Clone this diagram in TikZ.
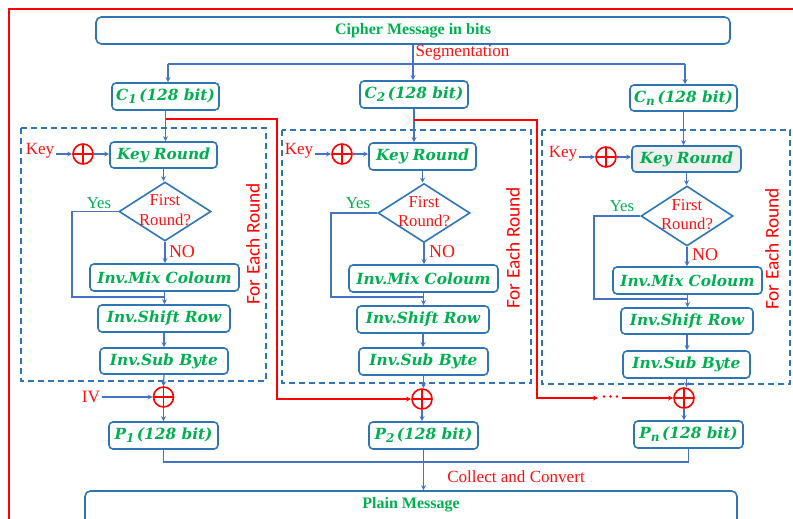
\documentclass[tikz,border=0pt]{standalone}
\usepackage{fontspec}
\setmainfont{Liberation Serif}
\newfontfamily\stagefont{DejaVu Serif}
\newfontfamily\loopfont{Carlito}
\usetikzlibrary{arrows.meta,shapes.geometric}
\newdimen\pxu \pxu=0.75pt
\definecolor{boxblue}{HTML}{2E75B6}
\definecolor{linkblue}{HTML}{4472C4}
\definecolor{txtgreen}{HTML}{00B050}
\definecolor{txtred}{HTML}{FF1010}

\tikzset{
  stage/.style={draw=boxblue, line width=1.2pt, rounded corners=3pt, inner sep=0pt,
    text=txtgreen, font=\stagefont\bfseries\itshape\fontsize{11.5}{13}\selectfont},
  message/.style={draw=boxblue, line width=1.2pt, rounded corners=4pt, inner sep=0pt,
    text=txtgreen, font=\bfseries\fontsize{12}{14}\selectfont},
  decision/.style={diamond, draw=boxblue, line width=1.2pt, inner sep=0pt},
  flow/.style={draw=linkblue, line width=0.9pt, -{Stealth[length=3.8pt,width=3.8pt]}},
  plainline/.style={draw=linkblue, line width=0.9pt},
  redflow/.style={draw=red, line width=1.2pt, -{Stealth[length=3.8pt,width=3.8pt]}},
  xorop/.style={circle, draw=red, line width=1.2pt, minimum size=15pt, inner sep=0pt,
    path picture={\draw[red, line width=1.2pt]
      (path picture bounding box.north) -- (path picture bounding box.south)
      (path picture bounding box.west) -- (path picture bounding box.east);}},
  roundframe/.style={draw=boxblue, line width=1.1pt, dash pattern=on 4.5pt off 3pt},
  redtext/.style={text=txtred, inner sep=1pt, font=\fontsize{12.8}{14}\selectfont},
  greentext/.style={text=txtgreen, inner sep=1pt, font=\fontsize{12.5}{14}\selectfont},
  asktext/.style={text=txtred, inner sep=0pt, align=center, font=\fontsize{12.5}{14.5}\selectfont},
  looptext/.style={text=red, rotate=90, inner sep=0pt, font=\loopfont\fontsize{14.5}{16}\selectfont},
  dotmark/.style={circle, fill=red, inner sep=0pt, minimum size=2.2pt},
}

\newcommand\blockname[2]{{\itshape #1}\raisebox{-0.35ex}{\fontsize{9}{10}\selectfont #2}\,(128 {\itshape bit})}

\begin{document}
\begin{tikzpicture}[x=0.75pt, y=-0.75pt]
\useasboundingbox (0,0) rectangle (793,518);
\clip (0,0) rectangle (793,518);

% outer frame (runs off the page to the right and bottom)
\draw[red, line width=1.7pt] (9,540) -- (9,9) -- (820,9);

% top and bottom messages
\node[message, minimum width=634\pxu, minimum height=27\pxu] (cipher) at (413,30.5) {Cipher Message in bits};
\node[message, minimum width=652\pxu, minimum height=34\pxu] (plain) at (411,508) {};
\node[text=txtgreen, inner sep=0pt, font=\bfseries\fontsize{12}{14}\selectfont] (plaintxt) at (411,505) {Plain Message};

% ciphertext blocks
\node[stage, minimum width=107\pxu, minimum height=27\pxu] (c1) at (165.5,96.5) {\blockname{C}{1}};
\node[stage, minimum width=108\pxu, minimum height=27\pxu] (c2) at (414,94.5) {\blockname{C}{2}};
\node[stage, minimum width=107\pxu, minimum height=26\pxu] (cn) at (683.5,98) {\blockname{C}{n}};

% segmentation
\coordinate (segL) at (168,64);
\coordinate (segR) at (685,64);
\draw[plainline] (segL) -- (segR);
\draw[flow] (cipher.south) -- (cipher.south |- c2.north);
\draw[flow] (segL) -- (segL |- c1.north);
\draw[flow] (segR) -- (segR |- cn.north);
\node[redtext, anchor=west] (segtxt) at (414,53) {Segmentation};

% round frames
\draw[roundframe] (21,128) rectangle (266,381);
\draw[roundframe] (282,130) rectangle (531,383);
\draw[roundframe] (542,130) rectangle (790,384);

% ---------- first column ----------
\node[stage, minimum width=107\pxu, minimum height=26\pxu] (kr1) at (163.5,155) {Key Round};
\node[decision, minimum width=92\pxu, minimum height=59\pxu] (d1) at (165,211.5) {};
\node[asktext] (q1) at (165,210) {First\\Round?};
\node[stage, minimum width=149\pxu, minimum height=27\pxu] (mc1) at (164.5,277.5) {Inv.Mix Coloum};
\node[stage, minimum width=132\pxu, minimum height=27\pxu] (sr1) at (164,318.5) {Inv.Shift Row};
\node[stage, minimum width=128\pxu, minimum height=26\pxu] (sb1) at (164,361) {Inv.Sub Byte};
\node[xorop] (xk1) at (83,154) {};
\node[redtext] (key1) at (40,151) {Key};
\node[xorop] (x1) at (163.5,397) {};
\node[redtext, font=\fontsize{13}{14}\selectfont] (iv) at (91,397) {IV};
\node[stage, minimum width=109\pxu, minimum height=27\pxu] (p1) at (163.5,435.5) {\blockname{P}{1}};
\node[greentext] (yes1) at (99,203) {Yes};
\node[redtext, font=\fontsize{13.5}{14}\selectfont] (no1) at (182,252) {NO};
\node[looptext] (loop1) at (253,244) {For Each Round};
\coordinate (yk1) at (72,297);

\draw[flow] (c1.south) -- (c1.south |- kr1.north);
\draw[flow] (key1.east |- xk1.west) -- (xk1.west);
\draw[flow] (xk1.east) -- (xk1.east -| kr1.west);
\draw[flow] (kr1.south) -- (kr1.south |- d1.north);
\draw[flow] (d1.south) -- (d1.south |- mc1.north);
\draw[flow] (mc1.south) -- (mc1.south |- sr1.north);
\draw[plainline] (d1.west) -| (yk1) -- (yk1 -| sr1.north);
\draw[flow] (sr1.south) -- (sr1.south |- sb1.north);
\draw[flow] (sb1.south) -- (x1.north);
\draw[flow] (iv.east |- x1.west) -- (x1.west);
\draw[flow] (x1.south) -- (p1.north);

% ---------- second column ----------
\node[stage, minimum width=107\pxu, minimum height=27\pxu] (kr2) at (422.5,156.5) {Key Round};
\node[decision, minimum width=92\pxu, minimum height=59\pxu] (d2) at (424,213) {};
\node[asktext] (q2) at (424,211.5) {First\\Round?};
\node[stage, minimum width=149\pxu, minimum height=27\pxu] (mc2) at (423.5,278.5) {Inv.Mix Coloum};
\node[stage, minimum width=132\pxu, minimum height=27\pxu] (sr2) at (423,319.5) {Inv.Shift Row};
\node[stage, minimum width=129\pxu, minimum height=27\pxu] (sb2) at (423.5,361.5) {Inv.Sub Byte};
\node[xorop] (xk2) at (342,154) {};
\node[redtext] (key2) at (299,151) {Key};
\node[xorop] (x2) at (422,399) {};
\node[stage, minimum width=109\pxu, minimum height=27\pxu] (p2) at (423.5,435.5) {\blockname{P}{2}};
\node[greentext] (yes2) at (358,203) {Yes};
\node[redtext, font=\fontsize{13.5}{14}\selectfont] (no2) at (442,252) {NO};
\node[looptext] (loop2) at (513,248) {For Each Round};
\coordinate (yk2) at (331,297);

\draw[flow] (c2.south) -- (c2.south |- kr2.north);
\draw[flow] (key2.east |- xk2.west) -- (xk2.west);
\draw[flow] (xk2.east) -- (xk2.east -| kr2.west);
\draw[flow] (kr2.south) -- (kr2.south |- d2.north);
\draw[flow] (d2.south) -- (d2.south |- mc2.north);
\draw[flow] (mc2.south) -- (mc2.south |- sr2.north);
\draw[plainline] (d2.west) -| (yk2) -- (yk2 -| sr2.north);
\draw[flow] (sr2.south) -- (sr2.south |- sb2.north);
\draw[flow] (sb2.south) -- (sb2.south |- x2.north);
\draw[flow] (x2.south) -- (x2.south |- p2.north);

% ---------- last column ----------
\node[stage, fill=gray!12, minimum width=109\pxu, minimum height=26\pxu] (kr3) at (686.5,159) {Key Round};
\node[decision, minimum width=92\pxu, minimum height=60\pxu] (d3) at (687,216) {};
\node[asktext] (q3) at (687,214.5) {First\\Round?};
\node[stage, minimum width=149\pxu, minimum height=27\pxu] (mc3) at (687.5,280.5) {Inv.Mix Coloum};
\node[stage, minimum width=132\pxu, minimum height=26\pxu] (sr3) at (687,321) {Inv.Shift Row};
\node[stage, minimum width=127\pxu, minimum height=27\pxu] (sb3) at (686.5,364.5) {Inv.Sub Byte};
\node[xorop] (xk3) at (606,157) {};
\node[redtext] (key3) at (563,154) {Key};
\node[xorop] (x3) at (684,398) {};
\node[stage, minimum width=109\pxu, minimum height=27\pxu] (pn) at (688.5,434.5) {\blockname{P}{n}};
\node[greentext] (yes3) at (622,206) {Yes};
\node[redtext, font=\fontsize{13.5}{14}\selectfont] (no3) at (705,255) {NO};
\node[looptext] (loop3) at (772,249) {For Each Round};
\coordinate (yk3) at (594,299);

\draw[flow] (cn.south) -- (cn.south |- kr3.north);
\draw[flow] (key3.east |- xk3.west) -- (xk3.west);
\draw[flow] (xk3.east) -- (xk3.east -| kr3.west);
\draw[flow] (kr3.south) -- (kr3.south |- d3.north);
\draw[flow] (d3.south) -- (d3.south |- mc3.north);
\draw[flow] (mc3.south) -- (mc3.south |- sr3.north);
\draw[plainline] (d3.west) -| (yk3) -- (yk3 -| sr3.north);
\draw[flow] (sr3.south) -- (sr3.south |- sb3.north);
\draw[flow] (sb3.south) -- (sb3.south |- x3.north);
\draw[flow] (x3.south) -- (x3.south |- pn.north);

% ---------- chaining of ciphertext blocks ----------
\coordinate (tap1) at (165.5,119);
\coordinate (bend1) at (277,250);
\draw[redflow] (tap1) -| (bend1) |- (x2.west);
\coordinate (tap2) at (414,120);
\coordinate (bend2) at (537,250);
\coordinate (gapL) at (598,398);
\coordinate (gapR) at (622,398);
\node[dotmark] (dotA) at (604,396.5) {};
\node[dotmark] (dotB) at (610.5,396.5) {};
\node[dotmark] (dotC) at (617,396.5) {};
\draw[redflow] (tap2) -| (bend2) |- (gapL);
\draw[redflow] (gapR) -- (x3.west);

% ---------- collecting the plaintext blocks ----------
\coordinate (busL) at (163.5,462);
\coordinate (busR) at (688.5,462);
\draw[plainline] (p1.south) -- (busL) -- (busR) -- (pn.south);
\draw[flow] (p2.south) -- (p2.south |- plain.north);
\node[redtext] (collect) at (516,477) {Collect and Convert};

\end{tikzpicture}
\end{document}
